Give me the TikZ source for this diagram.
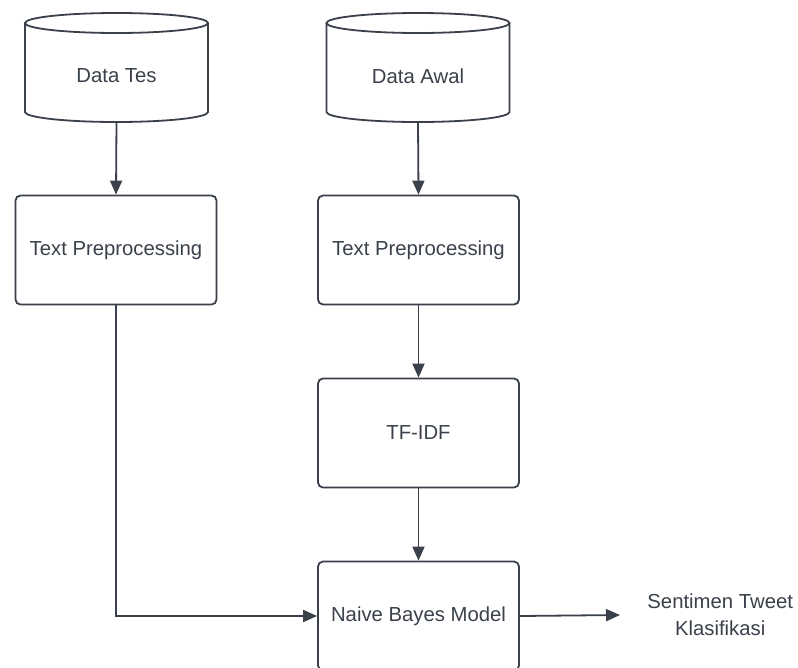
\documentclass[tikz,border=0pt]{standalone}
\usepackage{fontspec}
\setmainfont{Liberation Sans}
\usetikzlibrary{arrows.meta}
\definecolor{ink}{HTML}{3A414A}
\tikzset{
  stepbox/.style={draw=ink, line width=1.8pt, rounded corners=5pt, minimum width=201pt, minimum height=109pt, text=ink, font=\fontsize{20.3}{27}\selectfont},
  label/.style={text=ink, font=\fontsize{20.3}{27}\selectfont, align=center},
  flow/.style={draw=ink, line width=1.8pt, -{Triangle[length=14pt,width=12pt]}},
  cyl/.style={draw=ink, line width=1.8pt}
}
\begin{document}
\begin{tikzpicture}[x=1pt,y=-1pt]
\useasboundingbox (0,0) rectangle (798,667);
\fill[white] (0,0) rectangle (798,667);

% database cylinders
\foreach \cx/\nm in {116.5/tes, 418/awal}{
  \draw[cyl] (\cx-91.5,23) -- (\cx-91.5,112) arc[start angle=180,end angle=0,x radius=91.5,y radius=10] -- (\cx+91.5,23);
  \draw[cyl] (\cx,23) ellipse[x radius=91.5,y radius=10];
  \coordinate (\nm bot) at (\cx,122);
}
\node[label] (tes) at (116.5,76) {Data Tes};
\node[label] (awal) at (418,76) {Data Awal};

% process boxes
\node[stepbox] (pre1) at (116,250) {Text Preprocessing};
\node[stepbox] (pre2) at (418.5,250) {Text Preprocessing};
\node[stepbox] (tfidf) at (418.5,433) {TF-IDF};
\node[stepbox] (nb) at (418.5,616) {Naive Bayes Model};
\node[label, minimum width=200pt, anchor=west] (out) at (620,615) {Sentimen Tweet\\Klasifikasi};

% connectors
\draw[flow] (tesbot) -- (pre1.north);
\draw[flow] (awalbot) -- (pre2.north);
\draw[flow] (pre2) -- (tfidf);
\draw[flow] (tfidf) -- (nb);
\draw[flow] (pre1.south) |- (nb.west);
\draw[flow] (nb.east) -- (out.west);
\end{tikzpicture}
\end{document}
